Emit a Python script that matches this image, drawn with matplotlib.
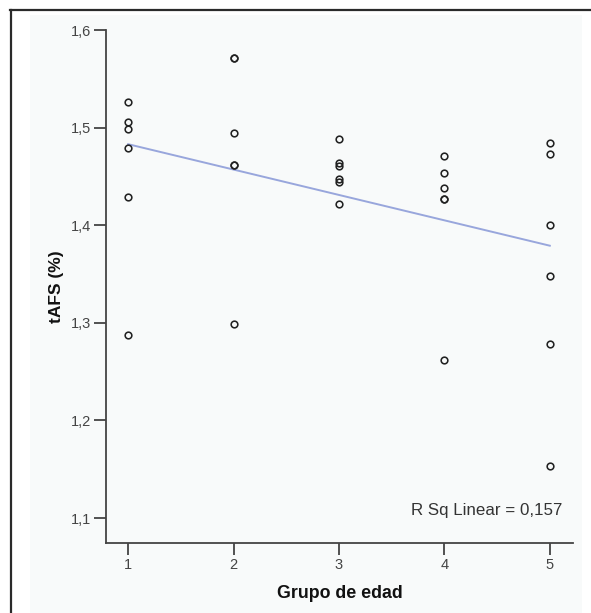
import matplotlib
matplotlib.use("Agg")
import matplotlib.pyplot as plt
from matplotlib.lines import Line2D
from matplotlib.patches import Rectangle

plt.rcParams['font.family'] = ['Liberation Sans', 'DejaVu Sans']

# Data
group1 = [1.526, 1.506, 1.499, 1.479, 1.429, 1.287]
group2 = [1.571, 1.571, 1.494, 1.462, 1.462, 1.299]
group3 = [1.488, 1.464, 1.461, 1.447, 1.444, 1.422]
group4 = [1.471, 1.453, 1.438, 1.427, 1.427, 1.262]
group5 = [1.484, 1.473, 1.400, 1.348, 1.278, 1.153]
groups = [1, 2, 3, 4, 5]
fit_x = [1, 5]
fit_y = [1.483, 1.379]
yticks = [1.1, 1.2, 1.3, 1.4, 1.5, 1.6]
ytick_labels = ["1,1", "1,2", "1,3", "1,4", "1,5", "1,6"]
xlabel = "Grupo de edad"
ylabel = "tAFS (%)"
rsq_text = "R Sq Linear = 0,157"

W, H = 591, 613
fig = plt.figure(figsize=(W / 100, H / 100), dpi=100)
fig.patch.set_facecolor("white")

# faint inner background
bg = Rectangle((30 / W, 0), (582 - 30) / W, (H - 15) / H,
               transform=fig.transFigure, facecolor="#f8fafa",
               edgecolor="none", zorder=-5)
fig.add_artist(bg)
# outer frame (left and top edges visible)
fig.add_artist(Line2D([10.5 / W, 10.5 / W], [0, 1 - 9.5 / H], transform=fig.transFigure,
                      color="#2a2a2a", lw=1.6, zorder=-4))
fig.add_artist(Line2D([10 / W, 1], [1 - 9.5 / H, 1 - 9.5 / H], transform=fig.transFigure,
                      color="#2a2a2a", lw=1.6, zorder=-4))

left, right = 106 / W, 573 / W
bottom, top = (H - 543) / H, (H - 30) / H
ax = fig.add_axes([left, bottom, right - left, top - bottom])
ax.set_facecolor("none")
ax.set_zorder(1)

all_groups = [group1, group2, group3, group4, group5]
for g, vals in zip(groups, all_groups):
    ax.plot([g] * len(vals), vals, linestyle="none", marker="o", markersize=4.8,
            markerfacecolor="none", markeredgecolor="#222222", markeredgewidth=1.15,
            zorder=3)

ax.plot(fit_x, fit_y, color="#98a6dc", lw=1.4, zorder=2)

ax.set_xlim(0.79, 5.22)
ax.set_ylim(1.0744, 1.6)
ax.set_xticks(groups)
ax.set_xticklabels([str(g) for g in groups])
ax.set_yticks(yticks)
ax.set_yticklabels(ytick_labels)

for s in ["top", "right"]:
    ax.spines[s].set_visible(False)
for s in ["left", "bottom"]:
    ax.spines[s].set_color("#444444")
    ax.spines[s].set_linewidth(1.3)

ax.tick_params(axis="both", direction="out", length=8.5, width=1.3, color="#444444",
               labelcolor="#444444", labelsize=10.5, pad=2)

ax.set_xlabel(xlabel, fontsize=12.8, fontweight="bold", color="#111111", labelpad=10)
ax.set_ylabel(ylabel, fontsize=12.5, fontweight="bold", color="#111111", labelpad=5)

ax.text(5.12, 1.108, rsq_text, ha="right", va="center", fontsize=12.2, color="#333333")

fig.savefig("out.png", dpi=100)
